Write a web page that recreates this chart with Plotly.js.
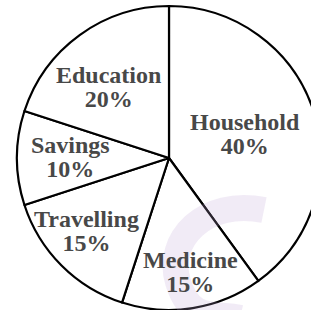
<!DOCTYPE html>
<html><head><meta charset="utf-8">
<script src="https://cdn.plot.ly/plotly-3.0.1.min.js"></script>
<style>
html,body{margin:0;padding:0;background:#fff;overflow:hidden;}
#chart{width:311px;height:310px;overflow:hidden;}
</style>
</head><body><div id="chart"></div>
<script>
const categories = ["Household", "Medicine", "Travelling", "Savings", "Education"];
const shares = [40, 15, 15, 10, 20];
const shareLabels = ["40%", "15%", "15%", "10%", "20%"];

// label anchor positions in page pixels (centre x, baseline of first line)
const labelX = [245, 190, 86, 70, 108];
const labelY = [130, 268, 227, 153, 83];

const W = 330, H = 310, ML = 17, MT = 6, MB = 0, MR = W - ML - 304;
const PW = W - ML - MR, PH = H - MT - MB;
const px = x => (x - ML) / PW;
const py = y => (H - MB - y) / PH;

const FS = 24;      // glyph size
const BASE = 18.5;  // base size that sets the tight line gap (18.5*1.3 ~ 24px)
const font = {family: "Liberation Serif", size: BASE, color: "#484848"};
const big = s => `<span style="font-size:${FS}px"><b>${s}</b></span>`;

const annotations = categories.map((c, i) => ({
  xref: "paper", yref: "paper",
  x: px(labelX[i]), y: py(labelY[i] + 12 - 8),
  text: big(c) + "<br>" + big(shareLabels[i]),
  showarrow: false, xanchor: "center", yanchor: "middle", align: "center", font: font
}));

const trace = {
  type: "pie",
  labels: categories,
  values: shares,
  sort: false,
  direction: "clockwise",
  rotation: 0,
  textinfo: "none",
  marker: {colors: ["#ffffff","#ffffff","#ffffff","#ffffff","#ffffff"], line: {color: "#000000", width: 2.2}},
  hoverinfo: "none",
  showlegend: false
};

const shapes = [{
  type: "path", xref: "paper", yref: "paper", layer: "above",
  path: `M ${px(264)},${py(210)} C ${px(205)},${py(198)} ${px(165)},${py(240)} ${px(178)},${py(282)} S ${px(215)},${py(312)} ${px(240)},${py(318)}`,
  line: {color: "rgba(190,165,215,0.22)", width: 26}
}];

Plotly.newPlot("chart", [trace], {
  width: W, height: H,
  margin: {l: ML, r: MR, t: MT, b: MB},
  paper_bgcolor: "#ffffff",
  showlegend: false,
  annotations: annotations,
  shapes: shapes
}, {staticPlot: true});
</script></body></html>
